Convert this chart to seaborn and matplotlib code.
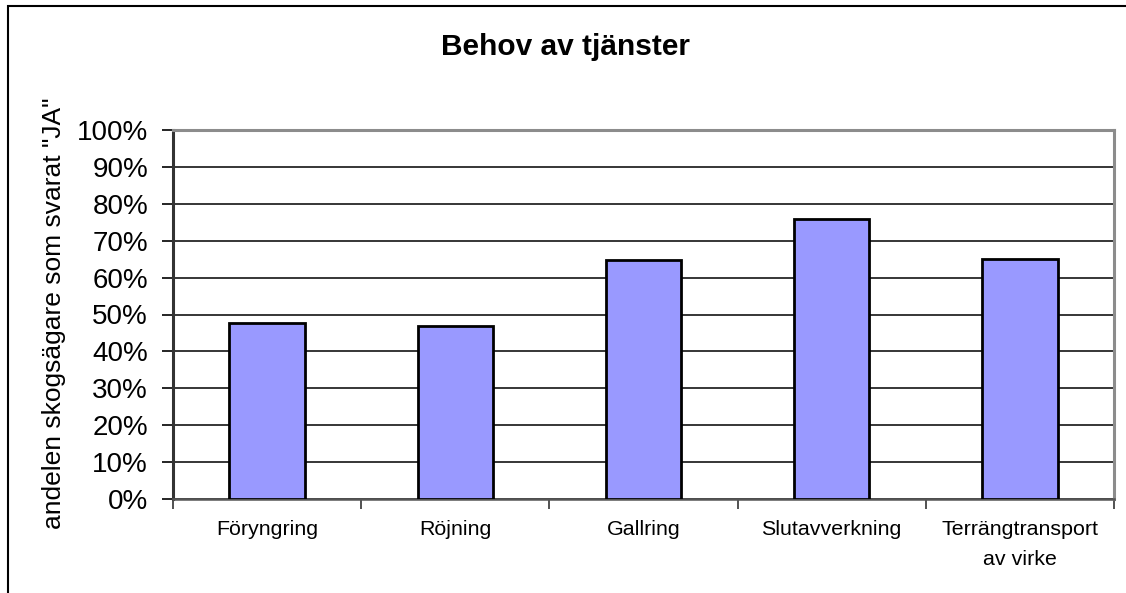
import numpy as np
import pandas as pd
import matplotlib
matplotlib.use('Agg')
import matplotlib.pyplot as plt
import seaborn as sns
from matplotlib.patches import Rectangle
from matplotlib.ticker import FixedLocator, PercentFormatter

# Data
categories = ['Föryngring', 'Röjning', 'Gallring', 'Slutavverkning', 'Terrängtransport\nav virke']
andel_ja = [47.6, 47.0, 64.7, 75.8, 65.0]

df = pd.DataFrame({'tjanst': categories, 'andel': andel_ja})

sns.set_theme(style='white')
plt.rcParams['font.family'] = ['Liberation Sans', 'DejaVu Sans']
plt.rcParams['text.color'] = 'black'
plt.rcParams['xtick.labelcolor'] = 'black'
plt.rcParams['ytick.labelcolor'] = 'black'

fig = plt.figure(figsize=(11.26, 5.93), dpi=100)
ax = fig.add_axes([173 / 1126, 1 - 499 / 593, (1114 - 173) / 1126, (499 - 130) / 593])

sns.barplot(data=df, x='tjanst', y='andel', color='#9999FF', saturation=1,
            width=0.4, edgecolor='black', linewidth=2, ax=ax, zorder=3)

# y axis: 0-100% with gridlines every 10
ax.set_ylim(0, 100)
ax.set_yticks(np.arange(0, 101, 10))
ax.yaxis.set_major_formatter(PercentFormatter(decimals=0))
ax.grid(axis='y', color='black', linewidth=1.1, zorder=0)
ax.tick_params(axis='y', direction='out', length=8, width=1.2, color='black',
               labelsize=20, pad=10, left=True)

# x axis: ticks between categories, labels centred on bars
ax.set_xlim(-0.5, 4.5)
ax.xaxis.set_major_locator(FixedLocator(np.arange(-0.5, 5, 1)))
ax.xaxis.set_minor_locator(FixedLocator(np.arange(0, 5)))
ax.set_xticklabels([''] * 6)
ax.set_xticklabels(categories, minor=True)
ax.tick_params(axis='x', which='major', direction='out', length=7, width=1.2, color='#333333', bottom=True)
ax.tick_params(axis='x', which='minor', length=0, labelsize=15.4, pad=15)
for lbl in ax.get_xticklabels(minor=True):
    lbl.set_linespacing(1.75)
    lbl.set_verticalalignment('top')

ax.set_xlabel('')
ax.set_ylabel('')

for side in ['top', 'right']:
    ax.spines[side].set_color('#8c8c8c')
    ax.spines[side].set_linewidth(2.2)
ax.spines['left'].set_color('#333333')
ax.spines['left'].set_linewidth(2.2)
ax.spines['bottom'].set_color('#555555')
ax.spines['bottom'].set_linewidth(1.8)

fig.text(566 / 1126, 1 - 47 / 593, 'Behov av tjänster', ha='center', va='center',
         fontsize=21.5, fontweight='bold')
fig.text(54 / 1126, 1 - 313 / 593, 'andelen skogsägare som svarat "JA"', ha='center', va='center',
         rotation=90, fontsize=19)

# outer chart border (cut off at right and bottom like the original)
fig.patches.append(Rectangle((8 / 1126, -0.2), 1.2, 1.2 - 6 / 593, transform=fig.transFigure,
                             fill=False, edgecolor='black', linewidth=1.5))

fig.savefig('out.png', dpi=100)
